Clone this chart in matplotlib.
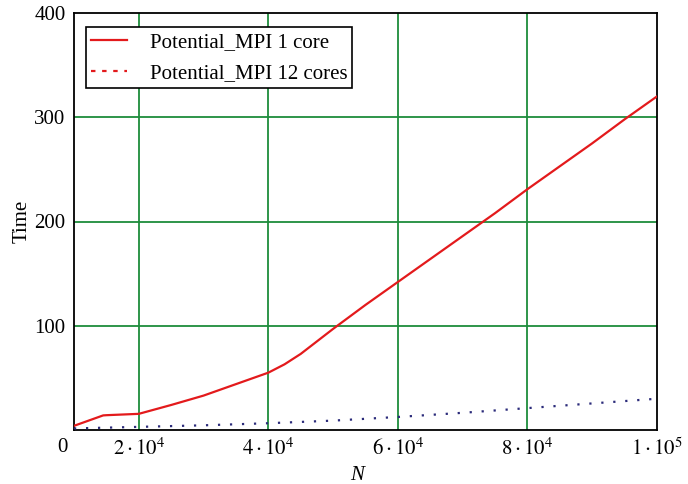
import matplotlib
matplotlib.use("Agg")
import matplotlib.pyplot as plt
from matplotlib.lines import Line2D

plt.rcParams['font.family'] = ['Liberation Serif', 'DejaVu Serif']
plt.rcParams['mathtext.fontset'] = 'stix'

n_values = [10000, 14500, 15000, 20000, 25000, 30000, 35000, 40000, 42500, 45000, 47500, 50000,
            55000, 60000, 65000, 70000, 75000, 80000, 85000, 90000, 95000, 100000]
time_1core = [4, 14, 14.2, 15.5, 24, 33, 44, 55, 63, 73, 85, 97,
              120, 142, 164, 186, 208, 231, 253, 275, 298, 320]
n_12 = [10000, 20000, 30000, 40000, 50000, 60000, 70000, 80000, 90000, 100000]
time_12cores = [1.5, 3, 4.5, 6.5, 9, 12.5, 16.5, 21, 25.5, 30]

x_ticks = [20000, 40000, 60000, 80000, 100000]
x_tick_labels = [r"$2\cdot10^4$", r"$4\cdot10^4$", r"$6\cdot10^4$", r"$8\cdot10^4$", r"$1\cdot10^5$"]
y_ticks = [100, 200, 300, 400]
y_tick_labels = ["100", "200", "300", "400"]

FS = 15
fig = plt.figure(figsize=(6.88, 4.84), dpi=100)
ax = fig.add_axes([74/688, 1-430/484, (657-74)/688, (430-13)/484])

grid_c = '#1e8c3c'
for xv in x_ticks[:-1]:
    ax.axvline(xv, color=grid_c, lw=1.3, zorder=1)
for yv in y_ticks[:-1]:
    ax.axhline(yv, color=grid_c, lw=1.3, zorder=1)

ax.plot(n_values, time_1core, color='#e31a1c', lw=1.6, zorder=3)
ax.plot(n_12, time_12cores, color='#2b2b7a', lw=1.6, linestyle=(0, (1.0, 4.4)),
        dash_capstyle='butt', zorder=3)

ax.set_xlim(10000, 100000)
ax.set_ylim(0, 400)
ax.set_xticks(x_ticks)
ax.set_xticklabels(x_tick_labels, fontsize=FS)
ax.set_yticks(y_ticks)
ax.set_yticklabels(y_tick_labels, fontsize=FS)
ax.tick_params(length=0, pad=6)
for s in ax.spines.values():
    s.set_linewidth(1.3)
    s.set_color('black')

fig.text(62/688, 1-448/484, "0", fontsize=FS, ha='center', va='center')
fig.text(357/688, 1-475/484, "N", fontsize=FS, style='italic', ha='center', va='center')
fig.text(22/688, 1-221/484, "Time", fontsize=FS, rotation=90, ha='center', va='center')

handles = [Line2D([0], [0], color='#e31a1c', lw=1.6),
           Line2D([0], [0], color='#e31a1c', lw=1.6, linestyle=(0, (2, 3)))]
leg = ax.legend(handles, ["Potential_MPI 1 core", "Potential_MPI 12 cores"],
                loc='upper left', bbox_to_anchor=(12/583, 1-14/417), fontsize=FS,
                frameon=True, fancybox=False, edgecolor='black', framealpha=1,
                handlelength=1.7, handletextpad=1.1, borderpad=0.25, labelspacing=0.55,
                borderaxespad=0)
leg.get_frame().set_linewidth(1.2)

fig.savefig("out.png", dpi=100)
